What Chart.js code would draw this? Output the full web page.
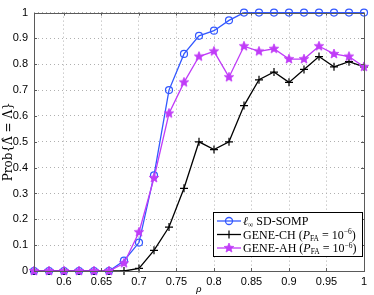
<!DOCTYPE html>
<html><head><meta charset="utf-8">
<script src="https://cdn.jsdelivr.net/npm/chart.js@4"></script>
<style>html,body{margin:0;padding:0;background:#fff;}canvas{display:block;}</style>
</head><body>
<canvas id="c" width="374" height="295"></canvas>
<script>
const rho = [0.56,0.58,0.60,0.62,0.64,0.66,0.68,0.70,0.72,0.74,0.76,0.78,0.80,0.82,0.84,0.86,0.88,0.90,0.92,0.94,0.96,0.98,1.00];
const sdSomp = [0,0,0,0,0,0,0.04,0.11,0.37,0.70,0.84,0.91,0.93,0.97,1,1,1,1,1,1,1,1,1];
const geneCh = [0,0,0,0,0,0,0,0.01,0.08,0.17,0.32,0.50,0.47,0.50,0.64,0.74,0.77,0.73,0.78,0.83,0.79,0.81,0.79];
const geneAh = [0,0,0,0,0,0,0.03,0.15,0.36,0.61,0.73,0.83,0.85,0.75,0.87,0.85,0.86,0.82,0.82,0.87,0.84,0.83,0.79];
const xTicks = [0.6,0.65,0.7,0.75,0.8,0.85,0.9,0.95,1];
const xTickLabels = ['0.6','0.65','0.7','0.75','0.8','0.85','0.9','0.95','1'];
const yTicks = [0,0.1,0.2,0.3,0.4,0.5,0.6,0.7,0.8,0.9,1];
const yTickLabels = ['0','0.1','0.2','0.3','0.4','0.5','0.6','0.7','0.8','0.9','1'];
const seriesNames = ['SD-SOMP','GENE-CH','GENE-AH'];

const BLUE = '#3358ff', BLACK = '#000000', PURPLE = '#c03cf8';

function makeStar(color, R, r) {
  const s = Math.ceil(R*2+2);
  const cv = document.createElement('canvas');
  cv.width = s; cv.height = s;
  const g = cv.getContext('2d');
  g.beginPath();
  for (let i = 0; i < 10; i++) {
    const rad = i % 2 === 0 ? R : r;
    const a = -Math.PI/2 + i*Math.PI/5;
    const x = s/2 + rad*Math.cos(a), y = s/2 + rad*Math.sin(a);
    if (i === 0) g.moveTo(x, y); else g.lineTo(x, y);
  }
  g.closePath();
  g.fillStyle = color; g.fill();
  g.strokeStyle = color; g.lineWidth = 0.8; g.stroke();
  return cv;
}
const star = makeStar(PURPLE, 5, 2.2);

function pts(ys) { return rho.map((x,i)=>({x:x, y:ys[i]})); }

const framePlugin = {
  id: 'frame',
  afterDatasetsDraw(chart) {
    const ctx = chart.ctx, a = chart.chartArea;
    const xs = chart.scales.x, ys = chart.scales.y;
    ctx.save();
    ctx.strokeStyle = '#5a5a5a';
    ctx.lineWidth = 1;
    ctx.strokeRect(Math.round(a.left)+0.5, Math.round(a.top)+0.5, Math.round(a.right-a.left), Math.round(a.bottom-a.top));
    ctx.beginPath();
    xTicks.forEach(v => {
      const px = Math.round(xs.getPixelForValue(v))+0.5;
      ctx.moveTo(px, a.bottom); ctx.lineTo(px, a.bottom-3);
      ctx.moveTo(px, a.top); ctx.lineTo(px, a.top+3);
    });
    yTicks.forEach(v => {
      const py = Math.round(ys.getPixelForValue(v))+0.5;
      ctx.moveTo(a.left, py); ctx.lineTo(a.left+3, py);
      ctx.moveTo(a.right, py); ctx.lineTo(a.right-3, py);
    });
    ctx.stroke();
    ctx.restore();
  },
  afterDraw(chart) {
    const ctx = chart.ctx, a = chart.chartArea;
    ctx.save();
    ctx.fillStyle = '#000';
    ctx.font = 'italic 11px "Liberation Serif"';
    ctx.textAlign = 'center'; ctx.textBaseline = 'middle';
    ctx.fillText('ρ', (a.left+a.right)/2, 289);
    ctx.translate(9, (a.top+a.bottom)/2);
    ctx.rotate(-Math.PI/2);
    ctx.font = '12px "DejaVu Serif"';
    ctx.fillText('Prob{Λ\u0302 = Λ}', 0, 0);
    ctx.restore();

    ctx.save();
    const bx = 213.5, by = 212.5, bw = 149, bh = 44;
    ctx.fillStyle = '#fff';
    ctx.fillRect(bx, by, bw, bh);
    ctx.strokeStyle = '#000'; ctx.lineWidth = 1;
    ctx.strokeRect(bx, by, bw, bh);
    const rows = [221, 234.5, 248];
    const colors = [BLUE, BLACK, PURPLE];
    const x0 = 217, x1 = 241, xm = 229;
    rows.forEach((ry, i) => {
      ctx.strokeStyle = colors[i]; ctx.lineWidth = 1.3;
      ctx.beginPath(); ctx.moveTo(x0, ry); ctx.lineTo(x1, ry); ctx.stroke();
      if (i === 0) { ctx.beginPath(); ctx.arc(xm, ry, 3.5, 0, Math.PI*2); ctx.stroke(); }
      else if (i === 1) { ctx.lineWidth = 1.2; ctx.beginPath(); ctx.moveTo(xm-4, ry); ctx.lineTo(xm+4, ry); ctx.moveTo(xm, ry-4); ctx.lineTo(xm, ry+4); ctx.stroke(); }
      else { ctx.drawImage(star, xm - star.width/2, ry - star.height/2); }
    });
    ctx.fillStyle = '#000';
    ctx.textBaseline = 'alphabetic'; ctx.textAlign = 'left';
    const base = 4;
    function draw(parts, x, y) {
      parts.forEach(p => {
        ctx.font = p[1];
        ctx.fillText(p[0], x, y + (p[2]||0));
        x += ctx.measureText(p[0]).width;
      });
    }
    const R = '12px "Liberation Serif"', I = 'italic 12px "Liberation Serif"', S = '7.5px "Liberation Serif"';
    draw([['ℓ', I], ['∞', S, 2], [' ' + seriesNames[0], R]], 243, rows[0] + base);
    draw([[seriesNames[1] + ' (', R], ['P', I], ['FA', S, 2], [' = 10', R], ['−6', S, -4.5], [')', R]], 243, rows[1] + base);
    draw([[seriesNames[2] + ' (', R], ['P', I], ['FA', S, 2], [' = 10', R], ['−6', S, -4.5], [')', R]], 243, rows[2] + base);
    ctx.restore();
  }
};

const tickFont = {family: '"Liberation Sans", Arial, sans-serif', size: 11};

new Chart(document.getElementById('c'), {
  type: 'line',
  data: {
    datasets: [
      {label: seriesNames[2], data: pts(geneAh), borderColor: PURPLE, backgroundColor: PURPLE, borderWidth: 1.3,
       pointStyle: star, pointRadius: 5, order: 0, clip: false, tension: 0},
      {label: seriesNames[1], data: pts(geneCh), borderColor: BLACK, backgroundColor: BLACK, borderWidth: 1.3,
       pointStyle: 'cross', pointRadius: 4, pointBorderWidth: 1.2, order: 1, clip: false, tension: 0},
      {label: seriesNames[0], data: pts(sdSomp), borderColor: BLUE, backgroundColor: 'rgba(0,0,0,0)', borderWidth: 1.3,
       pointStyle: 'circle', pointRadius: 3.5, pointBorderWidth: 1.2, order: 2, clip: false, tension: 0}
    ]
  },
  options: {
    responsive: false, animation: false, devicePixelRatio: 1,
    layout: {padding: {top: 10, right: 10, left: 0, bottom: 0}},
    plugins: {legend: {display: false}, tooltip: {enabled: false}},
    scales: {
      x: {
        type: 'linear', min: 0.56, max: 1,
        afterBuildTicks: s => { s.ticks = xTicks.map(v => ({value: v})); },
        afterFit: s => { s.height = 24; },
        ticks: {font: tickFont, color: '#000', padding: 4, maxRotation: 0, autoSkip: false,
                callback: (v) => xTickLabels[xTicks.indexOf(v)]},
        grid: {color: '#b0b0b0', drawTicks: false},
        border: {display: false, dash: [1, 3]}
      },
      y: {
        min: 0, max: 1,
        afterBuildTicks: s => { s.ticks = yTicks.map(v => ({value: v})); },
        afterFit: s => { s.width = 34; },
        ticks: {font: tickFont, color: '#000', padding: 6, autoSkip: false,
                callback: (v) => yTickLabels[yTicks.indexOf(v)]},
        grid: {color: '#b0b0b0', drawTicks: false},
        border: {display: false, dash: [1, 3]}
      }
    }
  },
  plugins: [framePlugin]
});
</script>
</body></html>
